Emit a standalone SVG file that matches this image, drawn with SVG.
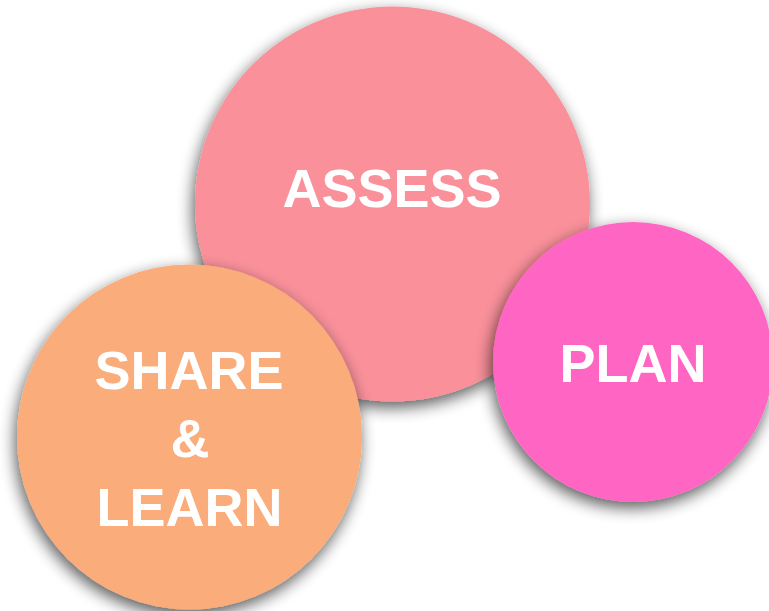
<svg xmlns="http://www.w3.org/2000/svg" width="769" height="611" viewBox="0 0 769 611">
  <defs>
    <filter id="drop" x="-20%" y="-20%" width="140%" height="140%">
      <feGaussianBlur in="SourceAlpha" stdDeviation="8"/>
      <feOffset dx="-2" dy="6" result="blur"/>
      <feComponentTransfer><feFuncA type="linear" slope="0.65"/></feComponentTransfer>
      <feMerge><feMergeNode/><feMergeNode in="SourceGraphic"/></feMerge>
    </filter>
  </defs>
  <style>
    .label { font-family: "Liberation Sans", Arial, Helvetica, sans-serif; font-weight: bold; font-size: 54px; fill: #ffffff; text-anchor: middle; }
  </style>
  <rect width="769" height="611" fill="#ffffff"/>
  <g id="assess">
    <circle cx="392.5" cy="204" r="197.5" fill="#F9909A" filter="url(#drop)"/>
    <text class="label" x="392" y="207">ASSESS</text>
  </g>
  <g id="share-learn">
    <circle cx="189.5" cy="437" r="172.5" fill="#FAAC7A" filter="url(#drop)"/>
    <text class="label" x="189" y="389">SHARE</text>
    <text class="label" x="190" y="457">&amp;</text>
    <text class="label" x="189.5" y="526">LEARN</text>
  </g>
  <g id="plan">
    <circle cx="633" cy="362" r="140" fill="#FF66C4" filter="url(#drop)"/>
    <text class="label" x="633" y="382">PLAN</text>
  </g>
  <g id="connectors"/>
</svg>
